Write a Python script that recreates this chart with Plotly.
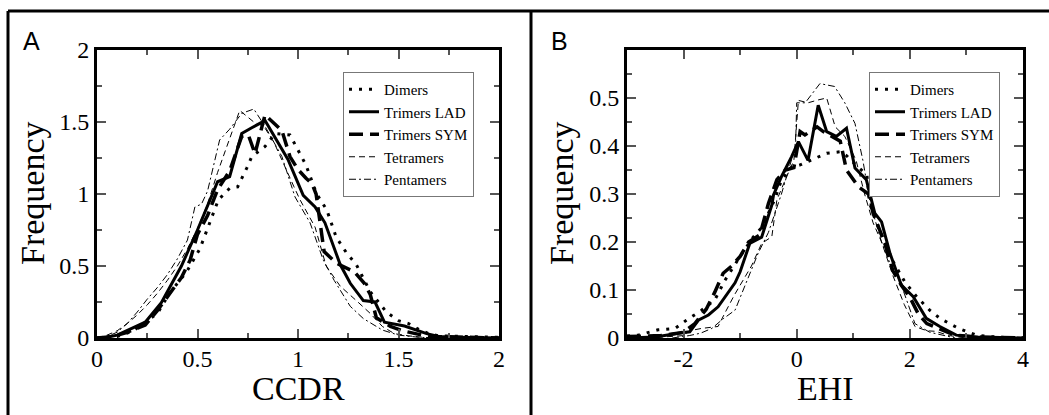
import plotly.graph_objects as go

W, H = 1049, 415

# ---------------- Panel A (CCDR) ----------------
a_dim_x = [0.0, 0.1, 0.18, 0.25, 0.3, 0.363, 0.405, 0.446, 0.512, 0.554, 0.604, 0.66, 0.7, 0.745, 0.77, 0.836, 0.886, 0.96, 1.0, 1.04, 1.093, 1.143, 1.19, 1.242, 1.29, 1.36, 1.44, 1.5, 1.55, 1.6, 1.65, 1.7, 1.8, 1.9, 2.0]
a_dim_y = [0.0, 0.01, 0.05, 0.12, 0.17, 0.315, 0.39, 0.46, 0.62, 0.77, 0.96, 1.04, 1.05, 1.18, 1.26, 1.33, 1.42, 1.41, 1.3, 1.2, 1.0, 0.89, 0.70, 0.59, 0.51, 0.32, 0.18, 0.12, 0.10, 0.06, 0.03, 0.015, 0.012, 0.01, 0.005]

a_lad_x = [0.0, 0.05, 0.1, 0.156, 0.24, 0.32, 0.42, 0.5, 0.6, 0.66, 0.72, 0.77, 0.836, 0.95, 1.026, 1.085, 1.134, 1.21, 1.26, 1.325, 1.383, 1.43, 1.53, 1.64, 1.7, 1.8, 1.9, 2.0]
a_lad_y = [0.0, 0.005, 0.02, 0.055, 0.11, 0.245, 0.5, 0.75, 1.085, 1.12, 1.42, 1.46, 1.51, 1.24, 0.99, 0.91, 0.80, 0.51, 0.38, 0.26, 0.25, 0.11, 0.083, 0.03, 0.01, 0.005, 0.005, 0.0]

a_sym_x = [0.0, 0.08, 0.15, 0.24, 0.3, 0.36, 0.42, 0.463, 0.5, 0.55, 0.6, 0.66, 0.72, 0.753, 0.786, 0.836, 0.92, 0.96, 1.0, 1.04, 1.07, 1.09, 1.1, 1.13, 1.19, 1.22, 1.28, 1.33, 1.36, 1.39, 1.46, 1.52, 1.58, 1.65, 1.75, 1.85, 2.0]
a_sym_y = [0.0, 0.01, 0.04, 0.09, 0.19, 0.3, 0.42, 0.54, 0.72, 0.85, 1.03, 1.16, 1.40, 1.41, 1.28, 1.55, 1.44, 1.26, 1.17, 1.11, 1.07, 1.0, 0.9, 0.6, 0.52, 0.5, 0.46, 0.38, 0.3, 0.14, 0.08, 0.05, 0.03, 0.01, 0.008, 0.005, 0.0]

a_tet_x = [0.0, 0.05, 0.1, 0.15, 0.2, 0.25, 0.3, 0.35, 0.4, 0.45, 0.5, 0.55, 0.6, 0.65, 0.71, 0.78, 0.83, 0.88, 0.93, 0.98, 1.01, 1.085, 1.14, 1.21, 1.29, 1.36, 1.42, 1.48, 1.55, 1.62, 1.7]
a_tet_y = [0.0, 0.02, 0.05, 0.1, 0.16, 0.23, 0.31, 0.4, 0.5, 0.62, 0.76, 0.93, 1.15, 1.35, 1.58, 1.5, 1.47, 1.36, 1.2, 1.05, 0.96, 0.77, 0.5, 0.36, 0.26, 0.17, 0.08, 0.03, 0.015, 0.005, 0.0]

a_pen_x = [0.0, 0.05, 0.1, 0.15, 0.2, 0.25, 0.3, 0.35, 0.4, 0.45, 0.487, 0.52, 0.55, 0.61, 0.66, 0.72, 0.78, 0.836, 0.92, 0.985, 1.06, 1.126, 1.18, 1.26, 1.325, 1.42, 1.5, 1.6, 1.7]
a_pen_y = [0.0, 0.01, 0.04, 0.1, 0.18, 0.27, 0.35, 0.44, 0.55, 0.68, 0.91, 0.93, 1.02, 1.375, 1.45, 1.56, 1.59, 1.47, 1.26, 0.98, 0.8, 0.54, 0.40, 0.22, 0.135, 0.055, 0.02, 0.005, 0.0]

# ---------------- Panel B (EHI) ----------------
b_dim_x = [-3.0, -2.8, -2.45, -2.15, -1.95, -1.68, -1.45, -1.27, -1.0, -0.77, -0.62, -0.39, -0.27, -0.1, 0.05, 0.23, 0.35, 0.53, 0.77, 0.88, 1.05, 1.24, 1.29, 1.53, 1.70, 1.91, 2.12, 2.35, 2.53, 2.86, 3.18, 3.4, 3.7, 4.0]
b_dim_y = [0.004, 0.006, 0.017, 0.02, 0.037, 0.058, 0.079, 0.12, 0.17, 0.21, 0.23, 0.288, 0.329, 0.355, 0.36, 0.37, 0.375, 0.385, 0.388, 0.38, 0.36, 0.34, 0.28, 0.204, 0.16, 0.117, 0.086, 0.058, 0.041, 0.02, 0.006, 0.003, 0.001, 0.0]

b_lad_x = [-3.0, -2.5, -2.09, -1.89, -1.74, -1.56, -1.39, -1.27, -1.09, -1.0, -0.83, -0.62, -0.44, -0.41, -0.27, -0.09, 0.03, 0.2, 0.38, 0.53, 0.70, 0.88, 1.03, 1.23, 1.38, 1.5, 1.65, 1.85, 2.06, 2.29, 2.53, 2.82, 3.2, 3.6, 4.0]
b_lad_y = [0.0, 0.002, 0.01, 0.013, 0.037, 0.048, 0.065, 0.086, 0.115, 0.138, 0.197, 0.21, 0.277, 0.298, 0.336, 0.378, 0.409, 0.37, 0.485, 0.43, 0.42, 0.437, 0.354, 0.33, 0.26, 0.242, 0.176, 0.11, 0.086, 0.041, 0.024, 0.006, 0.002, 0.001, 0.0]

b_sym_x = [-3.0, -2.4, -2.0, -1.8, -1.6, -1.45, -1.3, -1.15, -1.0, -0.85, -0.65, -0.5, -0.35, -0.2, -0.05, 0.06, 0.145, 0.36, 0.47, 0.62, 0.77, 0.88, 1.09, 1.27, 1.35, 1.55, 1.7, 1.85, 2.0, 2.15, 2.3, 2.5, 2.8, 3.2, 4.0]
b_sym_y = [0.003, 0.005, 0.012, 0.03, 0.06, 0.095, 0.135, 0.15, 0.17, 0.2, 0.215, 0.28, 0.33, 0.35, 0.355, 0.43, 0.423, 0.44, 0.43, 0.42, 0.41, 0.35, 0.315, 0.3, 0.26, 0.2, 0.14, 0.11, 0.085, 0.05, 0.03, 0.02, 0.006, 0.002, 0.0]

b_tet_x = [-3.0, -2.5, -2.0, -1.9, -1.68, -1.39, -1.27, -1.1, -0.8, -0.62, -0.44, -0.35, -0.2, -0.05, 0.03, 0.2, 0.38, 0.53, 0.68, 0.85, 1.05, 1.2, 1.35, 1.5, 1.7, 1.9, 2.09, 2.3, 2.45, 2.7, 3.0]
b_tet_y = [0.0, 0.001, 0.005, 0.015, 0.02, 0.024, 0.052, 0.09, 0.15, 0.197, 0.211, 0.288, 0.33, 0.37, 0.495, 0.49, 0.496, 0.5, 0.44, 0.42, 0.37, 0.3, 0.24, 0.2, 0.13, 0.07, 0.024, 0.015, 0.014, 0.005, 0.0]

b_pen_x = [-2.2, -1.9, -1.7, -1.5, -1.3, -1.09, -0.97, -0.68, -0.5, -0.27, -0.12, -0.02, 0.0, 0.15, 0.41, 0.67, 0.85, 1.03, 1.17, 1.3, 1.5, 1.7, 1.82, 2.0, 2.09, 2.35, 2.6, 2.8]
b_pen_y = [0.0, 0.005, 0.01, 0.02, 0.04, 0.058, 0.093, 0.177, 0.22, 0.3, 0.36, 0.4, 0.49, 0.49, 0.53, 0.524, 0.49, 0.447, 0.37, 0.28, 0.2, 0.14, 0.12, 0.06, 0.03, 0.012, 0.005, 0.0]

names = ["Dimers", "Trimers LAD", "Trimers SYM", "Tetramers", "Pentamers"]
styles = [
    dict(width=3, dash="3px,7px"),
    dict(width=3, dash="solid"),
    dict(width=3.5, dash="14px,7px"),
    dict(width=1, dash="6px,4px"),
    dict(width=1, dash="7px,3px,2px,3px"),
]

panelA = [(a_dim_x, a_dim_y), (a_lad_x, a_lad_y), (a_sym_x, a_sym_y), (a_tet_x, a_tet_y), (a_pen_x, a_pen_y)]
panelB = [(b_dim_x, b_dim_y), (b_lad_x, b_lad_y), (b_sym_x, b_sym_y), (b_tet_x, b_tet_y), (b_pen_x, b_pen_y)]

fig = go.Figure()
for (x, y), n, s in zip(panelA, names, styles):
    fig.add_trace(go.Scatter(x=x, y=y, mode="lines", name=n, line=dict(color="black", **s),
                             xaxis="x", yaxis="y", legend="legend"))
for (x, y), n, s in zip(panelB, names, styles):
    fig.add_trace(go.Scatter(x=x, y=y, mode="lines", name=n, line=dict(color="black", **s),
                             xaxis="x2", yaxis="y2", legend="legend2"))

SERIF = "Liberation Serif"
ytop = 1 - 50 / H
ybot = 1 - 338 / H

fig.update_layout(
    width=W, height=H,
    margin=dict(l=0, r=0, t=0, b=0, autoexpand=False),
    paper_bgcolor="white", plot_bgcolor="white",
    showlegend=True,
    xaxis=dict(domain=[97 / W, 499 / W], range=[0, 2], anchor="y",
               tickmode="array", tickvals=[0, 0.5, 1, 1.5, 2], ticktext=["0", "0.5", "1", "1.5", "2"]),
    yaxis=dict(domain=[ybot, ytop], range=[0, 2], anchor="x",
               tickmode="array", tickvals=[0, 0.5, 1, 1.5, 2], ticktext=["0", "0.5", "1", "1.5", "2"]),
    xaxis2=dict(domain=[627 / W, 1023 / W], range=[-3, 4], anchor="y2",
                tickmode="array", tickvals=[-2, 0, 2, 4], ticktext=["-2", "0", "2", "4"]),
    yaxis2=dict(domain=[ybot, ytop], range=[0, 0.6], anchor="x2",
                tickmode="array", tickvals=[0, 0.1, 0.2, 0.3, 0.4, 0.5],
                ticktext=["0", "0.1", "0.2", "0.3", "0.4", "0.5"]),
    legend=dict(x=343 / W, y=1 - 72 / H, xanchor="left", yanchor="top", bgcolor="white",
                bordercolor="#777", borderwidth=1, itemwidth=30, tracegroupgap=0,
                font=dict(family=SERIF, size=15, color="black")),
    legend2=dict(x=869 / W, y=1 - 72 / H, xanchor="left", yanchor="top", bgcolor="white",
                 bordercolor="#777", borderwidth=1, itemwidth=30, tracegroupgap=0,
                 font=dict(family=SERIF, size=15, color="black")),
)

# axis styling applied to every axis
fig.update_xaxes(showline=True, linewidth=3, linecolor="black", mirror="allticks",
                 ticks="inside", ticklen=9, tickwidth=2, tickcolor="#555",
                 showgrid=False, zeroline=False, automargin=False, ticklabelstandoff=-3,
                 tickfont=dict(family=SERIF, size=24, color="black"))
fig.update_yaxes(showline=True, linewidth=3, linecolor="black", mirror="allticks",
                 ticks="inside", ticklen=9, tickwidth=2, tickcolor="#555",
                 showgrid=False, zeroline=False, automargin=False,
                 tickfont=dict(family=SERIF, size=24, color="black"))
fig.update_xaxes(minor=dict(ticks="inside", ticklen=5, tickwidth=2, tickcolor="#555", showgrid=False))
fig.update_yaxes(minor=dict(ticks="inside", ticklen=5, tickwidth=2, tickcolor="#555", showgrid=False))
fig.layout.xaxis.minor.dtick = 0.25
fig.layout.yaxis.minor.dtick = 0.25
fig.layout.xaxis2.minor.dtick = 1
fig.layout.xaxis2.minor.tick0 = -3
fig.layout.yaxis2.minor.dtick = 0.05


def label(text, x, y, size=34, family=SERIF, angle=0):
    return dict(text=text, x=x / W, y=1 - y / H, xref="paper", yref="paper", showarrow=False,
                xanchor="center", yanchor="middle", textangle=angle,
                font=dict(family=family, size=size, color="black"))


fig.update_layout(
    annotations=[
        label("A", 31, 41, size=25, family="Liberation Sans"),
        label("B", 559, 41, size=25, family="Liberation Sans"),
        label("CCDR", 298, 388),
        label("EHI", 825, 388),
        label("Frequency", 33, 193, angle=-90),
        label("Frequency", 562, 193, angle=-90),
    ],
    shapes=[
        dict(type="line", xref="paper", yref="paper", x0=8 / W, x1=1, y0=1 - 11 / H, y1=1 - 11 / H,
             line=dict(color="black", width=3)),
        dict(type="line", xref="paper", yref="paper", x0=8 / W, x1=8 / W, y0=0, y1=1 - 11 / H,
             line=dict(color="black", width=3)),
        dict(type="line", xref="paper", yref="paper", x0=531 / W, x1=531 / W, y0=0, y1=1 - 11 / H,
             line=dict(color="black", width=3)),
    ],
)

fig.write_html("out.html")
